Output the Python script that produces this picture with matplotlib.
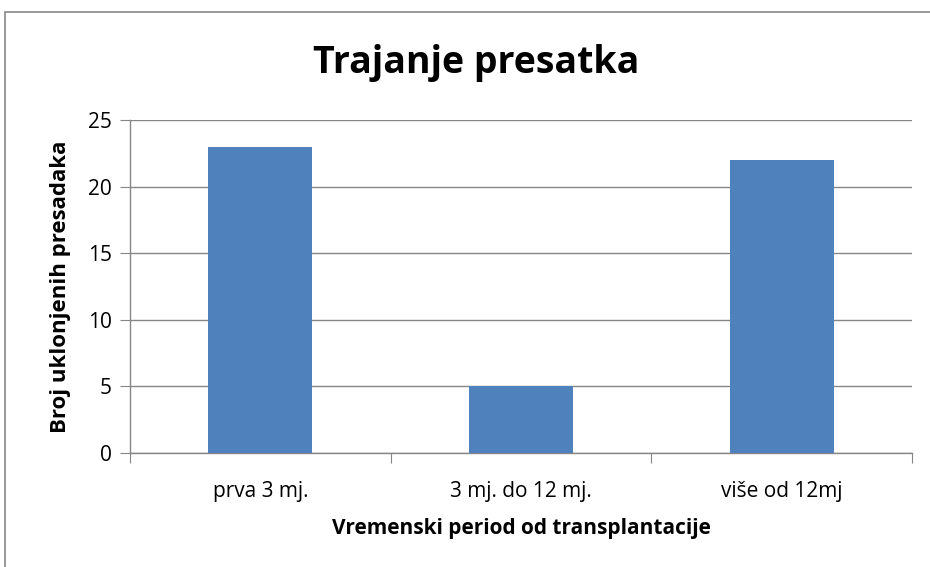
import matplotlib
matplotlib.use("Agg")
import matplotlib.pyplot as plt
from matplotlib.patches import Rectangle

categories = ["prva 3 mj.", "3 mj. do 12 mj.", "više od 12mj"]
values = [23, 5, 22]
yticks = [0, 5, 10, 15, 20, 25]

plt.rcParams['font.family'] = ['Open Sans', 'DejaVu Sans']

fig = plt.figure(figsize=(9.3, 5.67), dpi=100)
ax = fig.add_axes([130/930, 1-453/567, (912-130)/930, (453-120)/567])

pos = [i + 0.5 for i in range(len(categories))]
ax.bar(pos, values, width=0.4, color="#4F81BD", zorder=3)
ax.set_xlim(0, len(categories))
ax.set_ylim(0, 25)
ax.set_yticks(yticks)
ax.set_yticklabels([str(v) for v in yticks], fontsize=15)
ax.yaxis.grid(True, color="#868686", linewidth=1, zorder=0)
ax.set_xticks(range(len(categories) + 1))
ax.set_xticklabels([])
ax.set_xticks(pos, minor=True)
ax.set_xticklabels(categories, minor=True, fontsize=15)
ax.tick_params(axis='x', which='minor', length=0, pad=20)
ax.tick_params(axis='x', which='major', length=7, color="#868686", direction='out')
ax.tick_params(axis='y', length=7, color="#868686", direction='out', pad=6)
for s in ["top", "right"]:
    ax.spines[s].set_visible(False)
for s in ["left", "bottom"]:
    ax.spines[s].set_color("#868686")
    ax.spines[s].set_linewidth(1)

ax.set_xlabel("Vremenski period od transplantacije", fontsize=15, fontweight='bold', labelpad=12)
ax.set_ylabel("Broj uklonjenih presadaka", fontsize=16, fontweight='bold', labelpad=12)
fig.text(476/930, 1-63/567, "Trajanje presatka", ha='center', va='center', fontsize=27, fontweight='bold')

fig.patches.append(Rectangle((5/930, -0.1), 1.2, 1 - 12/567 + 0.1, transform=fig.transFigure,
                             fill=False, edgecolor="#888888", linewidth=1.2))

fig.savefig("out.png", dpi=100)
